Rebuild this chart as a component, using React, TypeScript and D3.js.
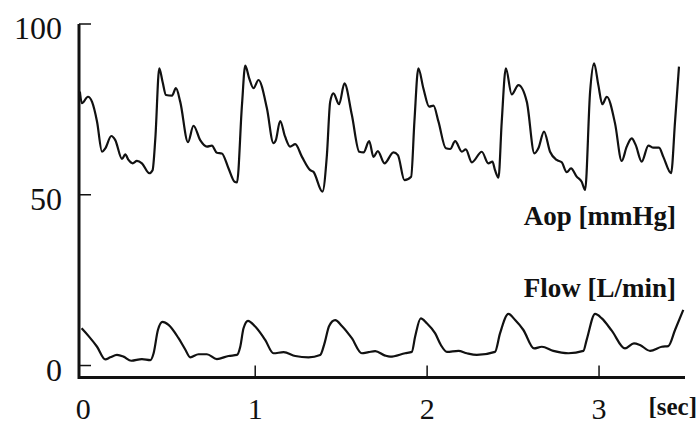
// Aortic pressure + flow traces, redrawn from a scanned figure
import React, { useEffect, useRef } from 'react';
import * as d3 from 'd3';

const W = 700;
const H = 427;

// time [sec] / value pairs
const aopTime = [-0.02, -0.008, 0.027, 0.051, 0.08, 0.109, 0.128, 0.163, 0.186, 0.225, 0.244, 0.263, 0.287, 0.312, 0.341, 0.384, 0.403, 0.419, 0.442, 0.461, 0.481, 0.516, 0.539, 0.564, 0.609, 0.641, 0.68, 0.719, 0.748, 0.777, 0.806, 0.845, 0.88, 0.894, 0.923, 0.942, 0.965, 0.99, 1.019, 1.068, 1.106, 1.12, 1.145, 1.174, 1.203, 1.233, 1.272, 1.32, 1.339, 1.391, 1.417, 1.436, 1.455, 1.488, 1.519, 1.562, 1.605, 1.63, 1.663, 1.688, 1.713, 1.752, 1.804, 1.83, 1.868, 1.907, 1.926, 1.949, 1.978, 2.012, 2.037, 2.066, 2.109, 2.134, 2.163, 2.202, 2.225, 2.26, 2.318, 2.356, 2.38, 2.395, 2.415, 2.434, 2.458, 2.492, 2.531, 2.58, 2.624, 2.647, 2.68, 2.715, 2.754, 2.783, 2.812, 2.837, 2.87, 2.899, 2.919, 2.948, 2.971, 2.996, 3.019, 3.045, 3.093, 3.132, 3.161, 3.19, 3.213, 3.248, 3.287, 3.316, 3.349, 3.374, 3.419, 3.442, 3.465];
const aopValue = [80.2, 76.8, 78.7, 77.2, 71.4, 62.6, 63.6, 67.2, 66.0, 60.5, 61.8, 60.2, 59.2, 59.9, 59.2, 56.3, 57.2, 66.5, 87.0, 83.1, 79.2, 79.0, 81.2, 77.2, 65.4, 70.2, 66.0, 64.1, 64.4, 62.3, 62.1, 57.7, 53.8, 53.6, 76.3, 87.8, 84.1, 81.2, 83.6, 75.3, 65.1, 66.0, 71.6, 67.0, 64.1, 64.8, 61.1, 57.2, 56.7, 50.9, 61.6, 77.2, 79.7, 76.5, 82.6, 73.4, 62.6, 62.4, 65.7, 61.1, 62.8, 59.2, 62.4, 61.6, 54.3, 55.3, 71.4, 87.0, 81.2, 75.8, 76.1, 71.4, 63.6, 63.4, 65.7, 62.6, 63.3, 59.5, 62.6, 59.2, 59.7, 57.2, 55.0, 71.4, 87.0, 79.4, 82.1, 77.2, 62.1, 63.6, 68.5, 62.6, 60.2, 59.5, 56.6, 57.7, 55.3, 53.8, 51.4, 80.2, 88.5, 82.1, 76.5, 78.7, 70.9, 59.9, 64.1, 66.5, 64.6, 59.7, 64.4, 63.8, 63.8, 61.1, 56.3, 71.4, 87.5];

const flowTime = [-0.01, 0.031, 0.08, 0.128, 0.157, 0.196, 0.234, 0.279, 0.341, 0.39, 0.409, 0.434, 0.461, 0.496, 0.554, 0.593, 0.622, 0.67, 0.719, 0.777, 0.845, 0.894, 0.913, 0.932, 0.958, 1.0, 1.058, 1.106, 1.165, 1.233, 1.31, 1.378, 1.403, 1.43, 1.465, 1.504, 1.562, 1.62, 1.659, 1.698, 1.756, 1.785, 1.872, 1.911, 1.93, 1.963, 1.998, 2.047, 2.08, 2.115, 2.182, 2.231, 2.289, 2.395, 2.424, 2.473, 2.512, 2.56, 2.622, 2.667, 2.734, 2.822, 2.909, 2.928, 2.977, 3.016, 3.074, 3.151, 3.203, 3.238, 3.297, 3.365, 3.403, 3.442, 3.49];
const flowValue = [10.9, 8.6, 5.5, 1.8, 2.4, 3.1, 2.6, 1.4, 1.9, 1.6, 3.6, 10.4, 12.8, 11.9, 8.0, 4.7, 2.4, 3.3, 3.3, 1.9, 2.8, 3.1, 5.5, 10.9, 13.1, 11.4, 7.5, 3.6, 3.9, 2.8, 2.4, 3.1, 6.5, 11.6, 13.3, 11.6, 8.0, 3.6, 3.9, 4.2, 2.9, 2.6, 3.6, 4.0, 8.4, 13.8, 12.4, 9.4, 6.0, 4.0, 4.3, 3.6, 3.1, 4.0, 9.4, 15.1, 13.3, 10.4, 5.0, 5.5, 4.3, 3.6, 4.3, 7.5, 15.1, 13.8, 10.2, 5.0, 6.5, 6.0, 4.3, 5.5, 5.7, 10.4, 16.3];

const yTicks = [0, 50, 100];
const xTicks = [0, 1, 2, 3];

export default function App() {
  const ref = useRef<SVGSVGElement>(null);

  useEffect(() => {
    const svg = d3.select(ref.current);
    svg.selectAll('*').remove();

    const x = d3.scaleLinear().domain([-0.025, 3.5]).range([79, 685]);
    const y = d3.scaleLinear().domain([-5, 100]).range([382.6, 24]);
    const xAxisAt = -3.5;

    const line = d3.line<[number, number]>()
      .x(d => x(d[0]))
      .y(d => y(d[1]))
      .curve(d3.curveMonotoneX);

    const serif = "'Liberation Serif', 'Times New Roman', serif";

    // axes, drawn by hand: no domain paths in the original
    const ax = svg.append('g').attr('stroke', '#111').attr('fill', 'none');
    ax.append('line')
      .attr('x1', x(-0.025)).attr('x2', x(-0.025))
      .attr('y1', y(100)).attr('y2', y(xAxisAt) + 1.5)
      .attr('stroke-width', 3);
    ax.append('line')
      .attr('x1', x(-0.025)).attr('x2', x(3.5))
      .attr('y1', y(xAxisAt)).attr('y2', y(xAxisAt))
      .attr('stroke-width', 3);

    ax.selectAll('.yt').data(yTicks).enter().append('line')
      .attr('x1', x(-0.025)).attr('x2', x(-0.025) + 12)
      .attr('y1', d => y(d)).attr('y2', d => y(d))
      .attr('stroke-width', 1.5);

    ax.selectAll('.xt').data(xTicks.filter(d => d > 0)).enter().append('line')
      .attr('x1', d => x(d)).attr('x2', d => x(d))
      .attr('y1', y(xAxisAt)).attr('y2', y(xAxisAt) - 12)
      .attr('stroke-width', 1.5);

    svg.selectAll('.yl').data(yTicks).enter().append('text')
      .attr('x', 62).attr('y', d => y(d) + 15)
      .attr('text-anchor', 'end')
      .style('font-family', serif).style('font-size', '32px')
      .attr('fill', '#111')
      .text(d => d);

    svg.selectAll('.xl').data(xTicks).enter().append('text')
      .attr('x', d => x(d)).attr('y', 419)
      .attr('text-anchor', 'middle')
      .style('font-family', serif).style('font-size', '30px')
      .attr('fill', '#111')
      .text(d => d);

    svg.append('text')
      .attr('x', 697).attr('y', 415)
      .attr('text-anchor', 'end')
      .style('font-family', serif).style('font-size', '25px').style('font-weight', 'bold')
      .attr('fill', '#111')
      .text('[sec]');

    // traces
    const aop = aopTime.map((t, i) => [t, aopValue[i]] as [number, number]);
    const flow = flowTime.map((t, i) => [t, flowValue[i]] as [number, number]);

    svg.append('path').datum(aop)
      .attr('d', line).attr('fill', 'none')
      .attr('stroke', '#111').attr('stroke-width', 2.2)
      .attr('stroke-linejoin', 'round');
    svg.append('path').datum(flow)
      .attr('d', line).attr('fill', 'none')
      .attr('stroke', '#111').attr('stroke-width', 2.2)
      .attr('stroke-linejoin', 'round');

    svg.append('text')
      .attr('x', 676).attr('y', 225)
      .attr('text-anchor', 'end')
      .style('font-family', serif).style('font-size', '27px').style('font-weight', 'bold')
      .attr('fill', '#111')
      .text('Aop [mmHg]');
    svg.append('text')
      .attr('x', 676).attr('y', 297)
      .attr('text-anchor', 'end')
      .style('font-family', serif).style('font-size', '27px').style('font-weight', 'bold')
      .attr('fill', '#111')
      .text('Flow [L/min]');
  }, []);

  return (
    <svg ref={ref} width={W} height={H}
      style={{ position: 'absolute', left: 0, top: 0, background: '#fff' }} />
  );
}
